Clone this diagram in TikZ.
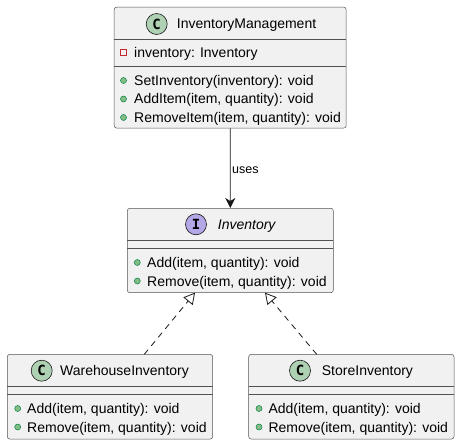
\documentclass[tikz,border=0pt]{standalone}
\usepackage{fontspec}
\setmainfont{Liberation Sans}
\newfontfamily\monob{DejaVu Sans Mono}
\usetikzlibrary{arrows.meta}
\definecolor{boxfill}{HTML}{F1F1F1}
\definecolor{boxline}{HTML}{181818}
\definecolor{cgreen}{HTML}{ADD1B2}
\definecolor{ipurple}{HTML}{B4A7E5}
\definecolor{pubfill}{HTML}{84BE84}
\definecolor{publine}{HTML}{038048}
\definecolor{privline}{HTML}{C82930}
\tikzset{
  classbox/.style={draw=boxline!75, fill=boxfill, line width=0.5bp, rounded corners=2.5bp, inner sep=0, rectangle},
  sepline/.style={draw=boxline!75, line width=0.5bp},
  txt/.style={anchor=base west, inner sep=0, font=\fontsize{14bp}{16bp}\selectfont, text=black},
  icon/.style={circle, draw=boxline, line width=0.6bp, minimum size=21bp, inner sep=0, font=\monob\bfseries\fontsize{14bp}{16bp}\selectfont},
  pub/.style={circle, fill=pubfill, draw=publine, line width=0.5bp, minimum size=6bp, inner sep=0},
  priv/.style={rectangle, draw=privline, line width=0.8bp, minimum size=6.5bp, inner sep=0},
  conn/.style={draw=boxline, line width=0.8bp},
}
\begin{document}
\begin{tikzpicture}[x=1bp,y=-1bp]
\useasboundingbox (0,0) rectangle (460,445);

% InventoryManagement
\node[classbox, minimum width=232bp, minimum height=121bp] (im) at (230.2,67.6) {};
\draw[sepline] (114.3,39.5) -- (346.1,39.5);
\draw[sepline] (114.3,65.8) -- (346.1,65.8);
\node[icon, fill=cgreen] (imicon) at (156.7,24) {C};
\node[txt] (imname) at (176.7,29) {InventoryManagement};
\node[priv] (ima) at (123.5,52.5) {};
\node[txt] (imat) at (134,57.5) {inventory: Inventory};
\node[pub] (imm1) at (123.5,80.5) {};
\node[txt] (imm1t) at (134,85.5) {SetInventory(inventory): void};
\node[pub] (imm2) at (123.5,99) {};
\node[txt] (imm2t) at (134,104) {AddItem(item, quantity): void};
\node[pub] (imm3) at (123.5,117.5) {};
\node[txt] (imm3t) at (134,122.5) {RemoveItem(item, quantity): void};

% Inventory
\node[classbox, minimum width=206bp, minimum height=84.4bp] (inv) at (230.3,250.5) {};
\draw[sepline] (127.3,240.5) -- (333.3,240.5);
\draw[sepline] (127.3,248.5) -- (333.3,248.5);
\node[icon, fill=ipurple] (invicon) at (196,224.3) {I};
\node[txt, font=\itshape\fontsize{14bp}{16bp}\selectfont] (invname) at (217.7,229.3) {Inventory};
\node[pub] (invm1) at (137.3,262.5) {};
\node[txt] (invm1t) at (147,267.5) {Add(item, quantity): void};
\node[pub] (invm2) at (137.3,281) {};
\node[txt] (invm2t) at (147,286) {Remove(item, quantity): void};

% WarehouseInventory
\node[classbox, minimum width=205.4bp, minimum height=84.7bp] (wh) at (110,396.7) {};
\draw[sepline] (7.3,386.7) -- (212.7,386.7);
\draw[sepline] (7.3,394.3) -- (212.7,394.3);
\node[icon, fill=cgreen] (whicon) at (41.7,370.7) {C};
\node[txt] (whname) at (60,375.7) {WarehouseInventory};
\node[pub] (whm1) at (17.7,408.5) {};
\node[txt] (whm1t) at (27,413.5) {Add(item, quantity): void};
\node[pub] (whm2) at (17.7,427) {};
\node[txt] (whm2t) at (27,432) {Remove(item, quantity): void};

% StoreInventory
\node[classbox, minimum width=205.3bp, minimum height=84.7bp] (st) at (351.35,396.7) {};
\draw[sepline] (248.7,386.7) -- (454,386.7);
\draw[sepline] (248.7,394.3) -- (454,394.3);
\node[icon, fill=cgreen] (sticon) at (300,370.7) {C};
\node[txt] (stname) at (321.7,375.7) {StoreInventory};
\node[pub] (stm1) at (259,408.5) {};
\node[txt] (stm1t) at (268.3,413.5) {Add(item, quantity): void};
\node[pub] (stm2) at (259,427) {};
\node[txt] (stm2t) at (268.3,432) {Remove(item, quantity): void};

% connectors
\draw[conn, -{Stealth[length=10bp, width=10bp, inset=3bp]}] (im.south) -- node[txt, pos=0.52, anchor=west, xshift=1.5bp, font=\fontsize{12.5bp}{14bp}\selectfont] (uses) {uses} (inv.north);
\coordinate (whtop) at (144.3,354.3);
\coordinate (invbl) at (195,292.7);
\coordinate (sttop) at (316.7,354.3);
\coordinate (invbr) at (265,292.7);
\draw[conn, dashed, dash pattern=on 6bp off 5bp, -{Triangle[open, length=11bp, width=12bp, line width=0.8bp]}] (whtop) -- (invbl);
\draw[conn, dashed, dash pattern=on 6bp off 5bp, -{Triangle[open, length=11bp, width=12bp, line width=0.8bp]}] (sttop) -- (invbr);
\end{tikzpicture}
\end{document}
